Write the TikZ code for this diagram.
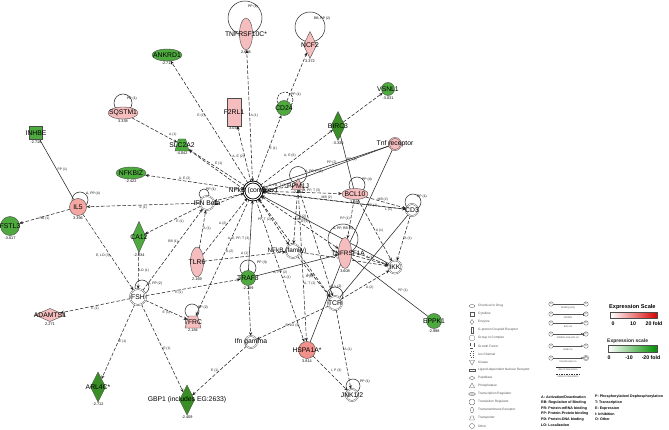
\documentclass[tikz,border=0pt]{standalone}
\usepackage{fontspec}
\setmainfont{Liberation Sans}
\usetikzlibrary{shapes.geometric,arrows.meta}
\definecolor{pk}{HTML}{F5BDBD}
\definecolor{sal}{HTML}{F2918B}
\definecolor{gn}{HTML}{4EAA3F}
\definecolor{dgn}{HTML}{3A8E26}
\definecolor{lg}{HTML}{555555}
\pgfdeclarelayer{bgzero}
\pgfdeclarelayer{edges}
\pgfsetlayers{bgzero,edges,main}
\begin{document}
\begin{tikzpicture}[x=1pt,y=-1pt,
  nd/.style={draw=black!70,line width=0.4pt,inner sep=0pt,outer sep=0pt},
  trap/.style={trapezium,trapezium stretches=true,inner sep=1pt,font=\fontsize{3}{3}\selectfont},
  dcirc/.style={nd,circle,double=white,double distance=0.7pt,fill=white},
  nm/.style={font=\fontsize{6.8}{7}\selectfont,inner sep=0pt,text=black},
  vl/.style={font=\fontsize{3.8}{4}\selectfont,inner sep=0.3pt,label distance=0.5pt},
  el/.style={font=\fontsize{3.4}{3.6}\selectfont,inner sep=0.6pt},
  de/.style={dash pattern=on 3.5pt off 1.8pt,line width=0.55pt,black!85,-{Stealth[length=3.8pt,width=3pt]}},
  bd/.style={de,{Stealth[length=3.8pt,width=3pt]}-{Stealth[length=3.8pt,width=3pt]}},
  se/.style={line width=0.55pt,black!85},
  sa/.style={line width=0.55pt,black!85,-{Stealth[length=3.8pt,width=3pt]}},
  sb/.style={sa,{Stealth[length=3.8pt,width=3pt]}-},
  lp/.style={line width=0.5pt,black!85},
  lpd/.style={line width=0.5pt,dash pattern=on 2pt off 1.2pt},
  lgt/.style={font=\fontsize{3.2}{3.4}\selectfont,text=lg,anchor=west,inner sep=0pt},
  lgi/.style={draw=lg,line width=0.3pt,inner sep=0pt,fill=white},
  kt/.style={font=\fontsize{3.6}{3.8}\selectfont\bfseries,anchor=west,inner sep=0pt},
]
\begin{pgfonlayer}{bgzero}
\fill[white] (0,0) rectangle (669,430);
\end{pgfonlayer}
\useasboundingbox (0,0) rectangle (669,430);

% ---------------- nodes ----------------
\node[dcirc,minimum size=18pt,draw=black,line width=0.9pt,double distance=0.9pt,label={[nm]center:NFkB (complex)}] (H) at (253,191) {};
\node[nd,ellipse,fill=pk,minimum width=13pt,minimum height=32pt,label={[nm]center:TNFRSF10C*},label={[vl]below:2.686}] (TNFC) at (246,34) {};
\node[nd,diamond,fill=pk,minimum width=13pt,minimum height=27pt,label={[nm]center:NCF2},label={[vl]below:3.372}] (NCF2) at (310,45) {};
\node[nd,ellipse,fill=gn,minimum width=30pt,minimum height=12pt,label={[nm]center:ANKRD1},label={[vl]below:-2.711}] (ANKRD1) at (167,55) {};
\node[nd,circle,fill=gn,minimum size=13pt,label={[nm]center:VSNL1},label={[vl]below:-3.031}] (VSNL1) at (388,89) {};
\node[nd,ellipse,fill=pk,minimum width=30pt,minimum height=12pt,label={[nm]center:SQSTM1},label={[vl]below:3.338}] (SQSTM1) at (123,113) {};
\node[nd,rectangle,fill=pk,minimum width=14pt,minimum height=28pt,label={[nm]center:F2RL1},label={[vl]below:3.033}] (F2RL1) at (234,112) {};
\node[nd,circle,fill=gn,minimum size=15pt,label={[nm]center:CD24}] (CD24) at (284,108) {};
\node[nd,trap,trapezium left angle=72,trapezium right angle=72,fill=gn,minimum width=14pt,minimum height=12pt,label={[nm]center:SLC2A2},label={[vl]below:-4.042}] (SLC2A2) at (182,145) {\phantom{I}};
\node[nd,diamond,fill=dgn,minimum width=14pt,minimum height=29pt,label={[nm]center:BIRC3},label={[vl]below:-3.330}] (BIRC3) at (338,126) {};
\node[nd,rectangle,fill=gn,minimum width=13pt,minimum height=13pt,label={[nm]center:INHBE},label={[vl]below:-2.718}] (INHBE) at (36,133) {};
\node[nd,ellipse,fill=gn,minimum width=30pt,minimum height=12pt,label={[nm]center:NFKBIZ},label={[vl]below:-2.422}] (NFKBIZ) at (131,173) {};
\node[dcirc,fill=pk,double=pk,minimum size=12pt,label={[nm]center:Tnf receptor}] (TNFR) at (395,144) {};
\node[dcirc,minimum size=14pt,label={[nm]center:IFN Beta}] (IFNB) at (207,203) {};
\node[nd,regular polygon,regular polygon sides=3,fill=pk,minimum size=15pt,label={[nm]center:PPM1J},label={[vl]below:-2.084}] (PPM) at (298,186) {};
\node[nd,ellipse,fill=pk,minimum width=26pt,minimum height=11pt,label={[nm]center:BCL10},label={[vl]below:3.286}] (BCL10) at (355,194) {};
\node[dcirc,minimum size=12pt,label={[nm]center:CD3}] (CD3) at (412,210) {};
\node[nd,circle,fill=sal!80,minimum size=17pt,label={[nm]center:IL5},label={[vl]below:3.396}] (IS) at (78,207) {};
\node[nd,circle,fill=gn,minimum size=19pt,label={[nm]center:FSTL3},label={[vl]below:-3.017}] (FSTL3) at (10,226) {};
\node[nd,diamond,fill=gn,minimum width=14pt,minimum height=31pt,label={[nm]center:CA12},label={[vl]below:-2.034}] (CA12) at (139,237) {};
\node[nd,ellipse,fill=pk,minimum width=13pt,minimum height=30pt,label={[nm]center:TLR6},label={[vl]below:2.169}] (TLR6) at (197,262) {};
\node[dcirc,minimum size=14pt,label={[nm,xshift=-6pt,font=\fontsize{6.4}{7}\selectfont]center:NFkB (family)}] (NFKBF) at (293,251) {};
\node[nd,ellipse,fill=pk,minimum width=13pt,minimum height=31pt,label={[nm,xshift=3pt,font=\fontsize{6.4}{7}\selectfont]center:TNFRSF1A},label={[vl]below:3.608}] (TNFR1A) at (345,253) {};
\node[dcirc,minimum size=13pt,label={[nm]center:IKK}] (IKK) at (395,267) {};
\node[nd,circle,fill=gn,minimum size=15pt,label={[nm]center:TRAF3},label={[vl]below:-2.289}] (TRAF3) at (248,278) {};
\node[dcirc,minimum size=16pt,label={[nm]center:FSH}] (FSH) at (138,297) {};
\node[dcirc,minimum size=14pt,label={[nm]center:TCR}] (TCR) at (335,303) {};
\node[nd,diamond,fill=pk,minimum width=30pt,minimum height=13pt,label={[nm]center:ADAMTS1},label={[vl]below:2.271}] (ADAMTS1) at (50,315) {};
\node[nd,trap,trapezium left angle=75,trapezium right angle=75,fill=pk,minimum width=16pt,minimum height=12pt,label={[nm]center:TFRC},label={[vl]below:2.184}] (TFRC) at (193,322) {\phantom{I}};
\node[nd,circle,fill=gn,minimum size=15pt,label={[nm]center:EPPK1},label={[vl]below:-2.998}] (EPPK1) at (434,321) {};
\node[dcirc,minimum size=12pt,label={[nm]center:Ifn gamma}] (IFNG) at (251,342) {};
\node[nd,circle,fill=sal,minimum size=17pt,label={[nm]center:HSPA1A*},label={[vl]below:3.814}] (HSPA) at (307,350) {};
\node[dcirc,minimum size=12pt,label={[nm]center:JNK1/2}] (JNK) at (352,395) {};
\node[nd,diamond,fill=dgn,minimum width=15pt,minimum height=30pt,label={[nm]center:ARL4C*},label={[vl]below:-2.712}] (ARL4C) at (98,387) {};
\node[nd,diamond,fill=dgn,minimum width=15pt,minimum height=30pt,label={[nm]center:GBP1 (includes EG:2633)},label={[vl]below:-2.409}] (GBP1) at (187,400) {};

% ---------------- edges ----------------
\begin{pgfonlayer}{edges}
% self loops
\draw[lp] (TNFC.center) ++(-1,-16) circle[radius=17pt];
\node[el] (lTNFC) at (253,7) {PP (1)};
\draw[lp] (NCF2.center) ++(0,-18) circle[radius=15pt];
\node[el] (lNCF2) at (322,19) {RB, PP (2)};
\draw[lpd] (CD24.center) ++(1,-8) circle[radius=8pt];
\node[el] (lCD24) at (296,95) {PP (1)};
\draw[lp] (SQSTM1.center) ++(0,-10) circle[radius=9pt];
\node[el] (lSQ) at (132,99) {PP (1)};
\draw[lp] (PPM.center) ++(0,-11) circle[radius=8.5pt];
\node[el] (lPPM) at (314,172) {A, PP, P (3)};
\draw[lp] (BCL10.center) ++(2,-9) circle[radius=8pt];
\node[el] (lBCL) at (367,180) {PP (4)};
\draw[lp] (CD3.center) ++(1,-8) circle[radius=8pt];
\node[el] (lCD3) at (422,197) {PP (1)};
\draw[lp] (IS.center) ++(2,-7) circle[radius=8pt];
\node[el] (lIS) at (93,194) {A, PP (4)};
\draw[lp] (IFNB.center) ++(-3,-9) circle[radius=5pt];
\node[el] (lIFNB) at (211,190) {PP (1)};
\draw[lp] (TNFR1A.center) ++(-2,-14) circle[radius=15pt];
\node[el] (lTR1) at (343,229) {A, PP, RB (5)};
\draw[lp] (TRAF3.center) ++(0,-10) circle[radius=8pt];
\node[el] (lTRAF) at (262,263) {PP (3)};
\draw[lp] (FSH.center) ++(4,-10) circle[radius=7pt];
\node[el] (lFSH) at (155,284) {A, PP (2)};
\draw[lp] (TFRC.center) ++(-1,-11) circle[radius=7pt];
\node[el] (lTFRC) at (203,308) {PP (2)};
\draw[lp] (TCR.center) ++(0,-8) circle[radius=8pt];
\node[el] (lTCR) at (336,287) {A, L (2)};
\draw[lp] (JNK.center) ++(1,-9) circle[radius=7pt];
\node[el] (lJNK) at (365,382) {PP (1)};

% hub edges
\draw[de] (H) -- node[el,pos=.55,left]{E (1)} (ANKRD1);
\draw[bd] (H) -- node[el,pos=.5,right]{A (1)} (TNFC);
\draw[de] (H) -- node[el,pos=.45,left]{A, E (2)} (F2RL1);
\draw[de] (H) -- node[el,pos=.5,right]{E (1)} (CD24);
\draw[de] (H) -- node[el,pos=.5,above left]{A, E (6)} (BIRC3);
\draw[de] (H) -- node[el,pos=.55,above right]{E (1)} (SLC2A2);
\draw[de] ([yshift=1.5pt]H.west) -- (SLC2A2);
\draw[de] (H) -- node[el,pos=.6,above]{A, E (2)} (NFKBIZ);
\draw[bd] (H) -- (IFNB);
\draw[de] ([yshift=-2pt]H.west) -- ([yshift=-2pt]IFNB.east);
\draw[sa] (TNFR) -- node[el,pos=.45,above]{PP (2)} (H);
\draw[sa] ([yshift=-2pt]TNFR.west) -- ([yshift=-2pt]H.east);
\draw[bd] (H) -- node[el,pos=.62,above]{A, PP, T (5)} (BCL10);
\draw[de] ([yshift=-1.5pt]H.east) -- node[el,pos=.88,below]{L (1)} (CD3);
\draw[de] (CD3) -- node[el,pos=.55,above]{MB (2)} ([yshift=-1pt]H.east);
\draw[sb] (H) -- (IKK);
\draw[de] (PPM) -- node[el,pos=.5,above]{A, FB, T (2)} (H);
\draw[bd] (H) -- node[el,pos=.45,left]{PP, T (2)} (NFKBF);
\draw[bd] (H) -- node[el,pos=.45,right]{MB (2)} (TNFR1A);
\draw[sb] (H) -- node[el,pos=.55,left]{A, E, PP, T (3)} (TRAF3);
\draw[de] (H) -- node[el,pos=.55,right]{A (1)} (HSPA);
\draw[bd] (H) -- node[el,pos=.78,left]{A (5)} (TCR);
\draw[de] (TLR6) -- node[el,pos=.55,left]{A (2)} (H);
\draw[de] (H) -- node[el,pos=.45,right]{A (2)} (TFRC);
\draw[de] (IFNB) -- node[el,pos=.5,below]{E (1)} (IS);
\draw[de] (IFNB) -- node[el,pos=.45,below right]{E (1)} (CA12);
\draw[de] (FSH) -- node[el,pos=.6,left]{RB (1)} (IFNB);
\draw[de] (TLR6) -- node[el,pos=.5,right]{A (1)} (IFNB);
% upper
\draw[de] (CD24) -- (NCF2);
\draw[de] (BIRC3) -- (VSNL1);
\draw[se] (BIRC3) -- node[el,pos=.45,right]{PP (2)} (BCL10);
\draw[de] (SQSTM1) -- node[el,pos=.8,above right]{A (1)} (SLC2A2);
\draw[se] (TNFR) -- node[el,pos=.6,right]{PP (1)} (TNFR1A);
% left
\draw[se] (INHBE) -- node[el,pos=.5,right]{PP (1)} (IS);
\draw[de] (IS) -- node[el,pos=.5,below]{RB (1)} (FSTL3);
\draw[de] (IS) -- node[el,pos=.55,left]{E, LO (3)} (FSH);
\draw[de] (CA12) -- node[el,pos=.5,right]{LO (1)} (FSH);
\draw[de] (FSH) -- node[el,pos=.5,below]{E (1)} (ADAMTS1);
\draw[de] (FSH) -- node[el,pos=.5,right]{E (1)} (ARL4C);
\draw[de] (FSH) -- node[el,pos=.5,right]{E (1)} (GBP1);
\draw[de] (FSH) -- node[el,pos=.5,below]{E (1)} (TFRC);
\draw[de] (FSH) -- node[el,pos=.35,below]{E (1)} (TRAF3);
\draw[de] (TLR6) -- node[el,pos=.5,above]{A (1)} (NFKBF);
% lower middle
\draw[de] (TRAF3) -- (IFNG);
\draw[de] (IFNG) -- node[el,pos=.5,left]{E (1)} (GBP1);
\draw[de] (TCR) -- node[el,pos=.5,below]{E, LO (3)} (IFNG);
\draw[de] (NFKBF) -- node[el,pos=.5,left]{A (5)} (TCR);
\draw[se] (TNFR1A) -- (HSPA);
\draw[de] (HSPA) -- node[el,pos=.5,above right]{I, P (3)} (JNK);
\draw[de] (TCR) -- node[el,pos=.5,right]{A (1)} (JNK);
\draw[sa] (TRAF3) -- node[el,pos=.3,below]{A, PP (2)} (TNFR1A);
\draw[de] (PPM) -- node[el,pos=.62,right]{A, T (2)} (HSPA);
\draw[de] (PPM) -- node[el,pos=.3,left]{A (1)} (TCR);
\draw[de] (PPM) -- node[el,pos=.5,right]{PP (2)} (NFKBF);
% right cluster
\draw[de] (TNFR1A) -- node[el,pos=.5,above]{A (1)} (IKK);
\draw[de] ([yshift=2pt]TNFR1A.east) -- ([yshift=2pt]IKK.west);
\draw[se] (TNFR1A) -- node[el,pos=.6,above right]{PP (1)} (EPPK1);
\draw[de] (CD3) -- node[el,pos=.5,right]{A (1)} (IKK);
\draw[se] (CD3) -- (TCR);
\draw[de] (TCR) -- node[el,pos=.5,below right]{A (2)} (IKK);
\draw[de] (BCL10) -- node[el,pos=.5,right]{A (1)} (IKK);
\draw[de] (BCL10) -- node[el,pos=.42,above]{MB (2)} (CD3);
\draw[de] (NFKBF) -- node[el,pos=.55,above]{A (1)} (IKK);
\draw[de] (BCL10) -- node[el,pos=.5,left]{PP (1)} (TNFR1A);
\end{pgfonlayer}

% ---------------- legend: shapes ----------------
\node[lgi,ellipse,minimum width=6pt,minimum height=3pt] (s1) at (472,306) {};
\node[lgt] (t1) at (478,306) {Chemical or Drug};
\node[lgi,rectangle,minimum width=4pt,minimum height=4pt] (s2) at (472,314) {};
\node[lgt] (t2) at (478,314) {Cytokine};
\node[lgi,diamond,minimum width=4pt,minimum height=5pt] (s3) at (472,322) {};
\node[lgt] (t3) at (478,322) {Enzyme};
\node[lgi,rectangle,minimum width=2.5pt,minimum height=6pt] (s4) at (472,330) {};
\node[lgt] (t4) at (478,330) {G-protein Coupled Receptor};
\node[lgi,rectangle,rounded corners=1pt,minimum width=5pt,minimum height=5pt] (s5) at (472,338) {};
\node[lgt] (t5) at (478,338) {Group or Complex};
\node[lgi,rectangle,dashed,minimum width=4pt,minimum height=5pt] (s6) at (472,346) {};
\node[lgt] (t6) at (478,346) {Growth Factor};
\node[lgi,rectangle,dotted,minimum width=3pt,minimum height=6pt] (s7) at (472,354) {};
\node[lgt] (t7) at (478,354) {Ion Channel};
\node[lgi,regular polygon,regular polygon sides=3,shape border rotate=180,minimum size=6pt] (s8) at (472,362) {};
\node[lgt] (t8) at (478,362) {Kinase};
\node[lgi,rectangle,minimum width=6pt,minimum height=2.5pt] (s9) at (472,370) {};
\node[lgt] (t9) at (478,370) {Ligand-dependent Nuclear Receptor};
\node[lgi,diamond,minimum width=6pt,minimum height=4pt] (s10) at (472,378) {};
\node[lgt] (t10) at (478,378) {Peptidase};
\node[lgi,regular polygon,regular polygon sides=3,minimum size=6pt] (s11) at (472,386) {};
\node[lgt] (t11) at (478,386) {Phosphatase};
\node[lgi,ellipse,fill=black!15,minimum width=7pt,minimum height=3pt] (s12) at (472,394) {};
\node[lgt] (t12) at (478,394) {Transcription Regulator};
\node[lgi,regular polygon,regular polygon sides=8,minimum size=6pt] (s13) at (472,402) {};
\node[lgt] (t13) at (478,402) {Translation Regulator};
\node[lgi,ellipse,minimum width=3pt,minimum height=6pt] (s14) at (472,410) {};
\node[lgt] (t14) at (478,410) {Transmembrane Receptor};
\node[lgi,trap,minimum width=5pt,minimum height=4pt,inner sep=0.5pt,font=\fontsize{1}{1}\selectfont] (s15) at (472,418) {\phantom{I}};
\node[lgt] (t15) at (478,418) {Transporter};
\node[lgi,circle,minimum size=5pt] (s16) at (472,426) {};
\node[lgt] (t16) at (478,426) {Other};

% ---------------- legend: relations ----------------
\tikzset{lc/.style={draw=lg,circle,line width=0.3pt,minimum size=4.5pt,inner sep=0pt,font=\fontsize{2.6}{2.6}\selectfont,text=lg},
  lct/.style={font=\fontsize{2.6}{2.8}\selectfont,text=lg,inner sep=0pt},
  la/.style={draw=lg,line width=0.35pt}}
\node[lc] (a1) at (551,304) {A}; \node[lc] (b1) at (586,304) {B};
\draw[la] (a1) -- (b1); \node[lct] (c1) at (568,307.5) {binding only};
\node[lc] (a2) at (551,314) {A}; \node[lc] (b2) at (586,314) {B};
\draw[la,-{Bar[width=3pt]}] (a2) -- (b2); \node[lct] (c2) at (568,317.5) {inhibits};
\node[lc] (a3) at (551,323) {A}; \node[lc] (b3) at (586,323) {B};
\draw[la,-{Stealth[length=2.5pt,width=2.2pt]}] (a3) -- (b3); \node[lct] (c3) at (568,326.5) {acts on};
\node[lc] (a4) at (551,334) {A}; \node[lc] (b4) at (586,334) {B};
\draw[la,-{Stealth[length=2.5pt,width=2.2pt]Bar[width=3pt]}] (a4) -- (b4); \node[lct] (c4) at (568,337.5) {inhibits and acts on};
\node[lc] (a5) at (551,346) {A}; \node[lc] (b5) at (586,346) {B};
\draw[la,-{Stealth[length=2.5pt,width=2.2pt,open]}] (a5) -- (b5); \node[lct] (c5) at (568,349.5) {leads to};
\node[lc] (a6) at (551,358) {A}; \node[lc,double,double distance=0.4pt] (b6) at (586,358) {B};
\draw[la,-{Stealth[length=2.5pt,width=2.2pt]}] (a6) -- (b6); \node[lct] (c6) at (568,361.5) {translocates to};
\coordinate (d1) at (556,367); \coordinate (d2) at (581,367);
\draw[line width=0.5pt,black!80] (d1) -- (d2); \node[lct] (c7) at (568,370) {direct interaction};
\coordinate (d3) at (556,374); \coordinate (d4) at (581,374);
\draw[line width=0.5pt,black!80,dash pattern=on 1.5pt off 1pt] (d3) -- (d4); \node[lct] (c8) at (568,377) {indirect interaction};

% ---------------- legend: scales ----------------
\node[font=\fontsize{5.6}{6}\selectfont\bfseries,anchor=west,inner sep=0pt] (es1) at (609,307.5) {Expression Scale};
\node[draw=black!70,line width=0.3pt,left color=white,right color=red!85!black,minimum width=47pt,minimum height=5.5pt,inner sep=0pt] (bar1) at (634,315) {};
\node[font=\fontsize{5.2}{5.5}\selectfont\bfseries,inner sep=0pt] (n10) at (613,323.5) {0};
\node[font=\fontsize{5.2}{5.5}\selectfont\bfseries,inner sep=0pt] (n11) at (633,323.5) {10};
\node[font=\fontsize{5.2}{5.5}\selectfont\bfseries,inner sep=0pt] (n12) at (654,323.5) {20 fold};
\node[font=\fontsize{5}{5.5}\selectfont\bfseries,anchor=west,inner sep=0pt,text=black!85] (es2) at (607,341) {Expression scale};
\node[draw=black!70,line width=0.3pt,left color=white,right color=green!55!black,minimum width=49pt,minimum height=6.5pt,inner sep=0pt] (bar2) at (633,348.5) {};
\node[font=\fontsize{5.2}{5.5}\selectfont\bfseries,inner sep=0pt] (n20) at (609,357.5) {0};
\node[font=\fontsize{5.2}{5.5}\selectfont\bfseries,inner sep=0pt] (n21) at (629,357.5) {-10};
\node[font=\fontsize{5.2}{5.5}\selectfont\bfseries,inner sep=0pt] (n22) at (651,357.5) {-20 fold};

% ---------------- legend: relation codes ----------------
\node[kt] (k1) at (541,397) {A: Activation/Deactivation};
\node[kt] (k2) at (541,402.6) {RB: Regulation of Binding};
\node[kt] (k3) at (541,408.2) {PR: Protein-mRNA binding};
\node[kt] (k4) at (541,413.8) {PP: Protein-Protein binding};
\node[kt] (k5) at (541,419.4) {PD: Protein-DNA binding};
\node[kt] (k6) at (541,425) {LO: Localization};
\node[kt] (k7) at (595,397) {P: Phosphorylation/ Dephosphorylation};
\node[kt] (k8) at (595,402.6) {T: Transcription};
\node[kt] (k9) at (595,408.2) {E: Expression};
\node[kt] (k10) at (595,413.8) {I: Inhibition};
\node[kt] (k11) at (595,419.4) {O: Other};
\end{tikzpicture}
\end{document}
